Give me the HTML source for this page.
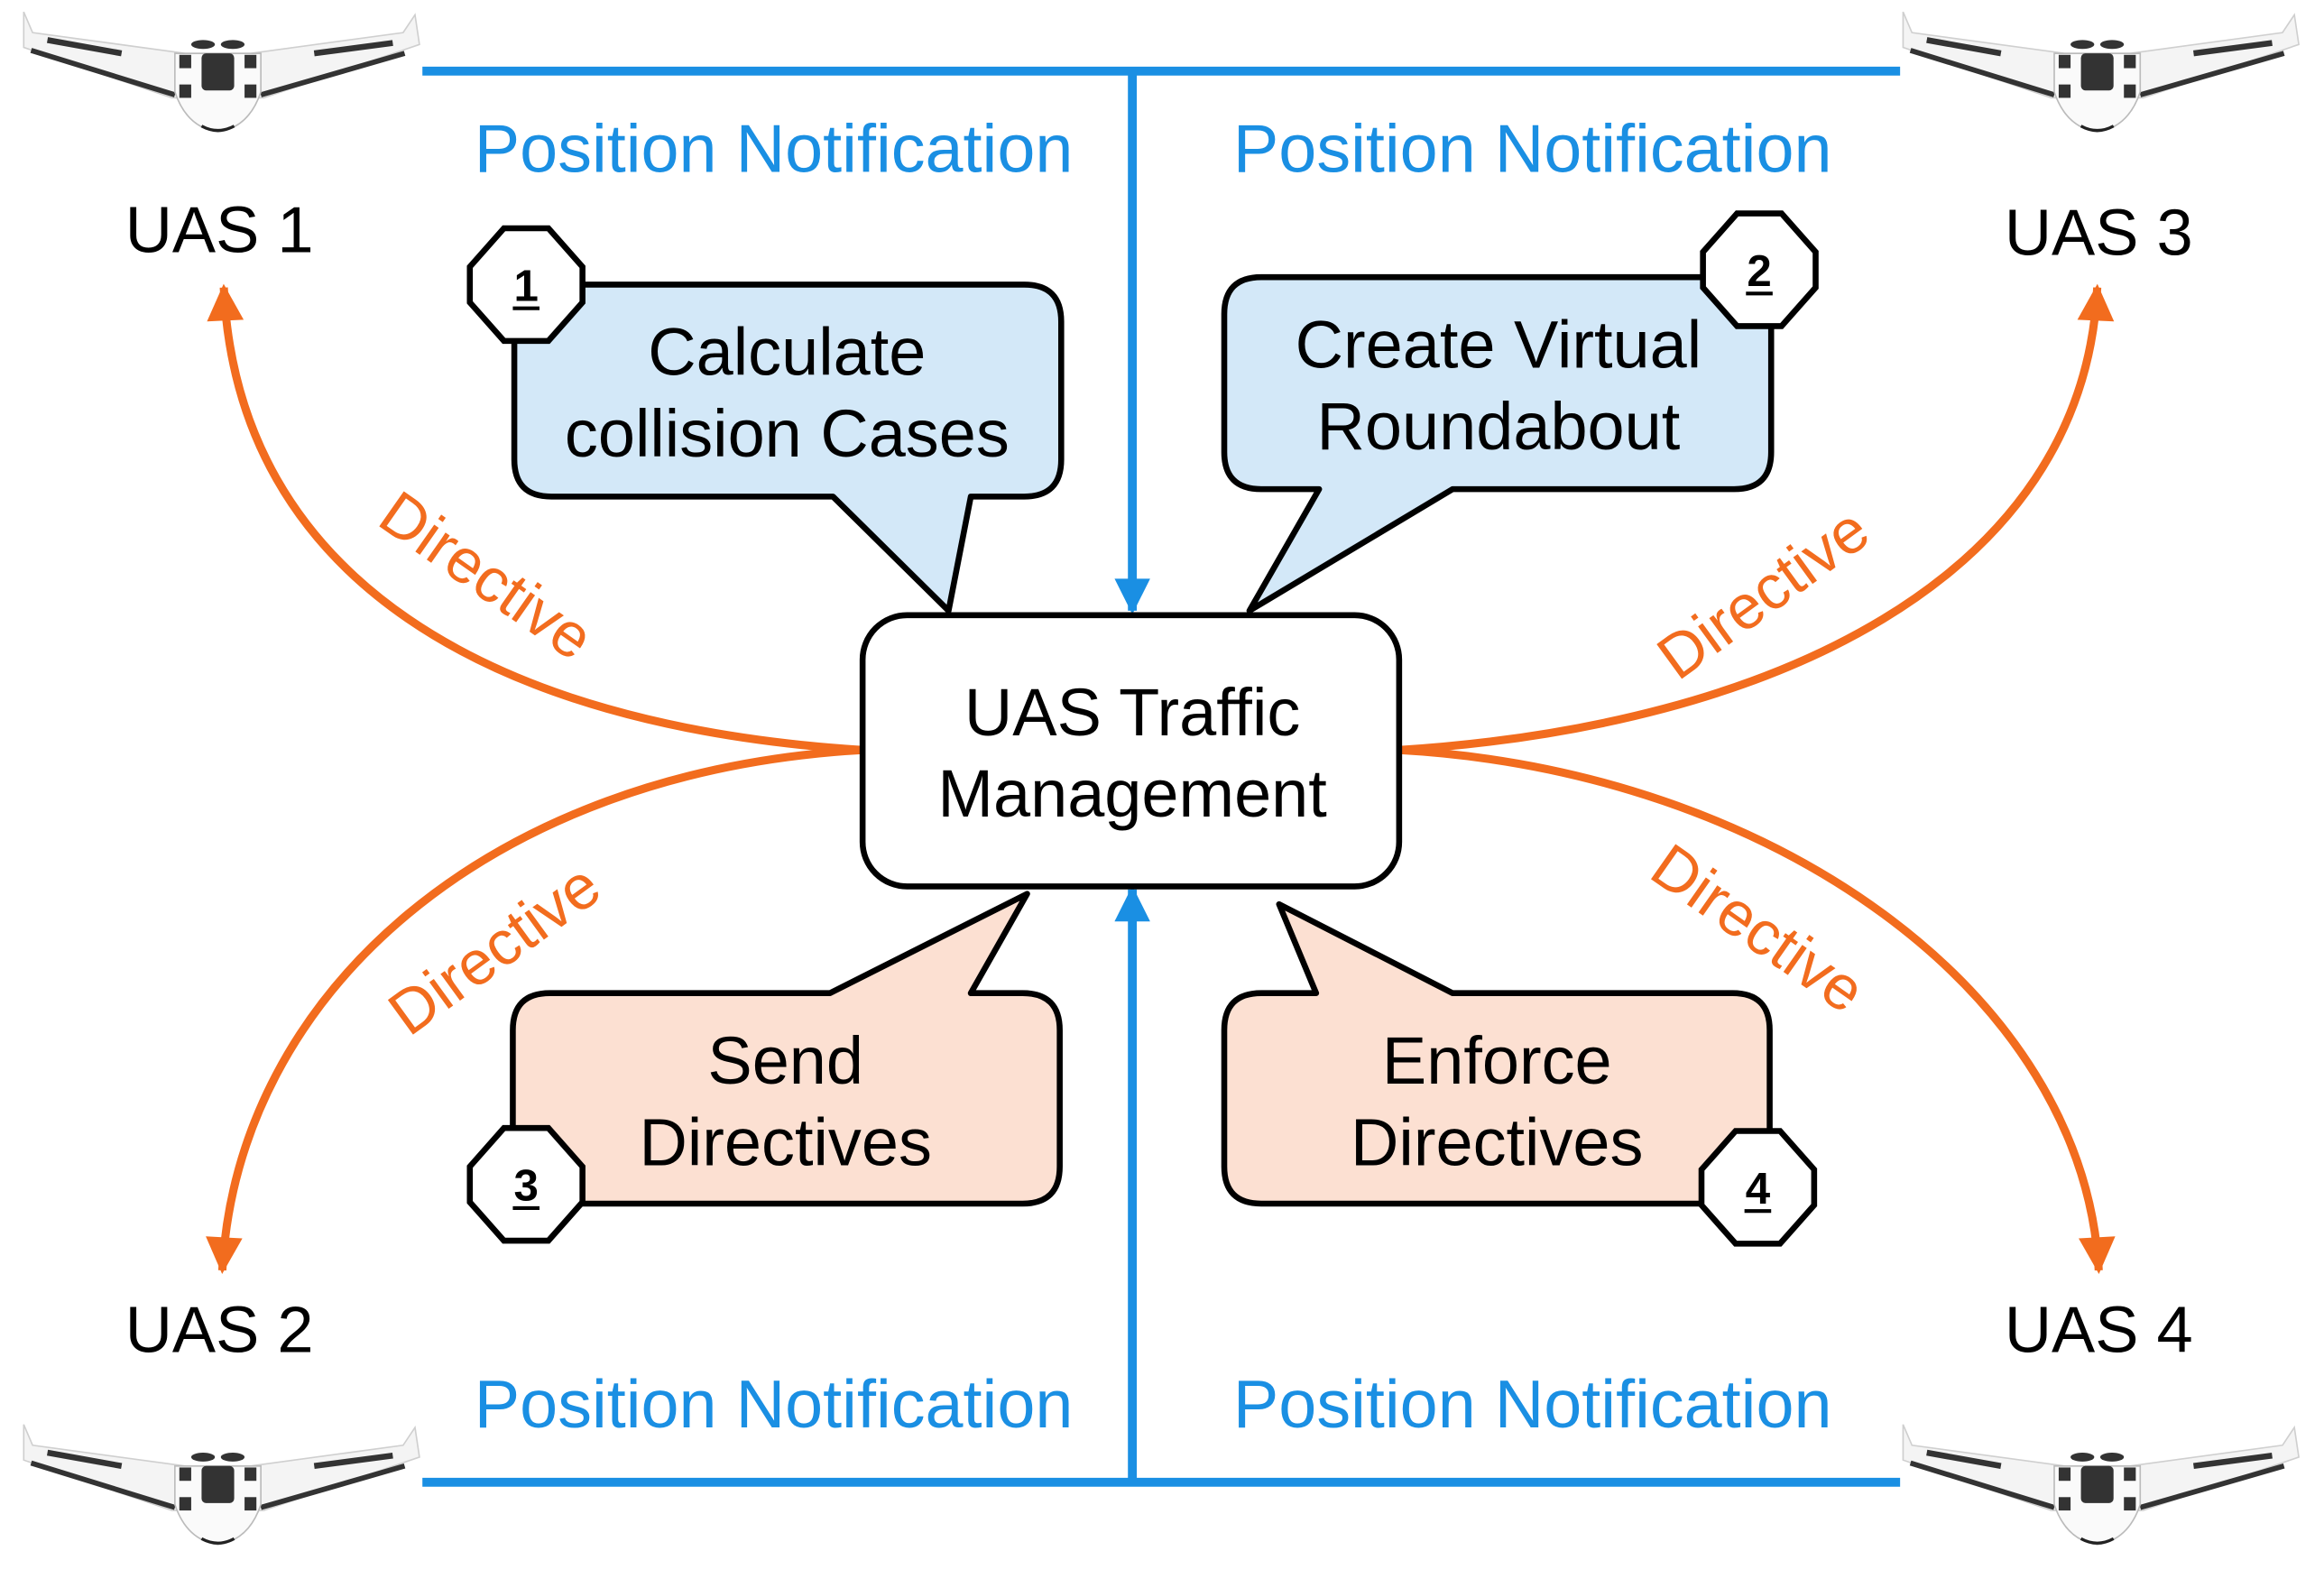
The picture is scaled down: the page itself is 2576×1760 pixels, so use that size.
<!DOCTYPE html>
<html><head><meta charset="utf-8"><style>
html,body{margin:0;padding:0;background:#fff;}
svg{display:block;}
text{font-family:"Liberation Sans",Arial,sans-serif;}
</style></head><body>
<svg width="2576" height="1760" viewBox="0 0 1568 1071.3" preserveAspectRatio="none" xmlns="http://www.w3.org/2000/svg">
<defs>
<g id="drone">
<polygon points="16,8 22,22 125,36 169,36 272,22 280,10 283,30 178,66 116,66 16,32" fill="#f4f4f4" stroke="#cfcfcf" stroke-width="1"/>
<line x1="21" y1="34" x2="118" y2="64" stroke="#333" stroke-width="3.5"/>
<line x1="273" y1="36" x2="176" y2="64" stroke="#333" stroke-width="3.5"/>
<line x1="32" y1="27" x2="82" y2="36" stroke="#333" stroke-width="4"/>
<line x1="212" y1="36" x2="265" y2="29" stroke="#333" stroke-width="4"/>
<path d="M118,36 L176,36 L176,62 Q168,86 147,89 Q126,86 118,62 Z" fill="#fafafa" stroke="#bbb" stroke-width="1"/>
<rect x="136" y="36" width="22" height="25" rx="3" fill="#333"/>
<rect x="121" y="37" width="8" height="9" fill="#333"/>
<rect x="165" y="37" width="8" height="9" fill="#333"/>
<rect x="121" y="57" width="8" height="9" fill="#333"/>
<rect x="165" y="57" width="8" height="9" fill="#333"/>
<ellipse cx="137" cy="30" rx="8" ry="3" fill="#333"/>
<ellipse cx="157" cy="30" rx="8" ry="3" fill="#333"/>
<path d="M136,85 Q147,91 158,85" stroke="#222" stroke-width="2" fill="none"/>
</g>
<marker id="ao" viewBox="0 0 10 10" refX="9" refY="5" markerWidth="5" markerHeight="4.5" orient="auto" markerUnits="strokeWidth"><path d="M0,0 L10,5 L0,10 Z" fill="#f26c1e"/></marker>
<marker id="ab" viewBox="0 0 10 10" refX="9" refY="5" markerWidth="4.5" markerHeight="4" orient="auto" markerUnits="strokeWidth"><path d="M0,0 L10,5 L0,10 Z" fill="#1a8fe3"/></marker>
</defs>

<use href="#drone" x="0" y="0"/>
<use href="#drone" x="1268" y="0"/>
<use href="#drone" x="0" y="953"/>
<use href="#drone" x="1268" y="953"/>

<g stroke="#1a8fe3" stroke-width="6" fill="none">
<line x1="285" y1="48" x2="1282" y2="48"/>
<line x1="285" y1="1000" x2="1282" y2="1000"/>
<line x1="764" y1="48" x2="764" y2="412" marker-end="url(#ab)"/>
<line x1="764" y1="1000" x2="764" y2="600" marker-end="url(#ab)"/>
</g>
<g fill="#1a8fe3" font-size="46" text-anchor="middle">
<text x="522" y="116">Position Notification</text>
<text x="1034" y="116">Position Notification</text>
<text x="522" y="963">Position Notification</text>
<text x="1034" y="963">Position Notification</text>
</g>

<g font-size="44" text-anchor="middle" fill="#000">
<text x="148" y="170">UAS 1</text>
<text x="1416" y="172">UAS 3</text>
<text x="148" y="912">UAS 2</text>
<text x="1416" y="912">UAS 4</text>
</g>

<g stroke="#f26c1e" stroke-width="5.5" fill="none">
<path d="M582,506 C330,490 160,390 151,194" marker-end="url(#ao)"/>
<path d="M582,506 C330,520 160,670 150,857" marker-end="url(#ao)"/>
<path d="M944,506 C1196,490 1406,390 1415,194" marker-end="url(#ao)"/>
<path d="M944,506 C1196,520 1406,670 1416,857" marker-end="url(#ao)"/>
</g>
<g fill="#f26c1e" font-size="42" text-anchor="middle">
<text transform="translate(320,400) rotate(35)">Directive</text>
<text transform="translate(342,652) rotate(-36)">Directive</text>
<text transform="translate(1198,412) rotate(-36)">Directive</text>
<text transform="translate(1178,638) rotate(35)">Directive</text>
</g>

<rect x="582" y="415" width="362" height="183" rx="30" fill="#fff" stroke="#000" stroke-width="4"/>
<g font-size="45" text-anchor="middle" fill="#000">
<text x="764" y="496">UAS Traffic</text>
<text x="764" y="551">Management</text>
</g>

<g stroke="#000" stroke-width="4" stroke-linejoin="round">
<path d="M372,192 H691 Q716,192 716,217 V310 Q716,335 691,335 H655 L640,412 L562,335 H372 Q347,335 347,310 V217 Q347,192 372,192 Z" fill="#d3e8f8"/>
<path d="M851,187 H1170 Q1195,187 1195,212 V305 Q1195,330 1170,330 H980 L843,412 L890,330 H851 Q826,330 826,305 V212 Q826,187 851,187 Z" fill="#d3e8f8"/>
<path d="M371,670 H560 L693,603 L655,670 H690 Q715,670 715,695 V787 Q715,812 690,812 H371 Q346,812 346,787 V695 Q346,670 371,670 Z" fill="#fce0d2"/>
<path d="M851,670 H888 L863,610 L980,670 H1169 Q1194,670 1194,695 V787 Q1194,812 1169,812 H851 Q826,812 826,787 V695 Q826,670 851,670 Z" fill="#fce0d2"/>
</g>
<g font-size="45" text-anchor="middle" fill="#000">
<text x="531" y="253">Calculate</text>
<text x="531" y="308">collision Cases</text>
<text x="1011" y="248">Create Virtual</text>
<text x="1011" y="303">Roundabout</text>
<text x="530" y="731">Send</text>
<text x="530" y="786">Directives</text>
<text x="1010" y="731">Enforce</text>
<text x="1010" y="786">Directives</text>
</g>

<g stroke="#000" stroke-width="4" fill="#fff">
<polygon points="-15,-38 15,-38 38,-12 38,12 15,38 -15,38 -38,12 -38,-12" transform="translate(355,192)"/>
<polygon points="-15,-38 15,-38 38,-12 38,12 15,38 -15,38 -38,12 -38,-12" transform="translate(1187,182)"/>
<polygon points="-15,-38 15,-38 38,-12 38,12 15,38 -15,38 -38,12 -38,-12" transform="translate(355,799)"/>
<polygon points="-15,-38 15,-38 38,-12 38,12 15,38 -15,38 -38,12 -38,-12" transform="translate(1186,801)"/>
</g>
<g font-size="30" font-weight="bold" text-anchor="middle" fill="#000">
<text x="355" y="203">1</text>
<text x="1187" y="193">2</text>
<text x="355" y="810">3</text>
<text x="1186" y="812">4</text>
</g>
<g stroke="#000" stroke-width="2.5">
<line x1="346" y1="208" x2="364" y2="208"/>
<line x1="1178" y1="198" x2="1196" y2="198"/>
<line x1="346" y1="815" x2="364" y2="815"/>
<line x1="1177" y1="817" x2="1195" y2="817"/>
</g>
</svg>
</body></html>
